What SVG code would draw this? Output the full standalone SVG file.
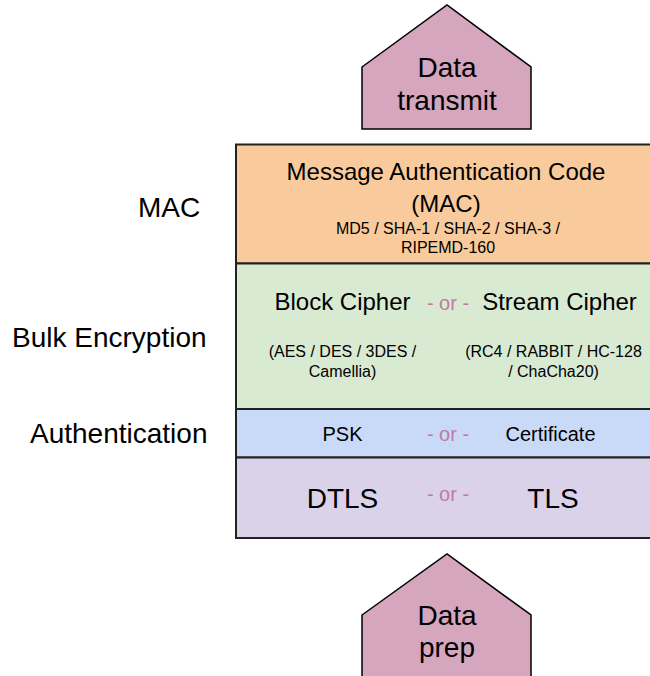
<svg xmlns="http://www.w3.org/2000/svg" width="650" height="676" viewBox="0 0 650 676">
  <style>
    text { font-family: "Liberation Sans", Arial, sans-serif; fill: #000; }
    .c { text-anchor: middle; }
    .big { font-size: 28px; }
    .mid { font-size: 24px; }
    .med { font-size: 20px; }
    .small { font-size: 16px; }
    .or { fill: #c27ba0; font-size: 20px; text-anchor: middle; }
    .arrow { fill: #d5a6bd; stroke: #000; stroke-width: 1.5; stroke-linejoin: miter; }
    .layer { stroke: #222; stroke-width: 2; }
  </style>

  <!-- side labels -->
  <g id="labels">
    <text class="big" x="138" y="217">MAC</text>
    <text class="big" x="12" y="347">Bulk Encryption</text>
    <text class="big" x="30" y="443">Authentication</text>
  </g>

  <!-- outgoing data arrow -->
  <g id="data-transmit">
    <polygon class="arrow" points="362,67 447,5 531,67 531,129 362,129"/>
    <text class="big c" x="447" y="77">Data</text>
    <text class="big c" x="447" y="110">transmit</text>
  </g>

  <!-- MAC layer -->
  <g id="mac">
    <rect class="layer" x="236" y="144.5" width="430" height="119" fill="#f9cb9c"/>
    <text class="mid c" x="446" y="180">Message Authentication Code</text>
    <text class="mid c" x="446" y="212">(MAC)</text>
    <text class="small c" x="448" y="234">MD5 / SHA-1 / SHA-2 / SHA-3 /</text>
    <text class="small c" x="448" y="253">RIPEMD-160</text>
  </g>

  <!-- bulk encryption layer -->
  <g id="bulk-encryption">
    <rect class="layer" x="236" y="263.5" width="430" height="145.5" fill="#d9ead3"/>
    <text class="mid c" x="342.5" y="310">Block Cipher</text>
    <text class="or" x="448" y="310">- or -</text>
    <text class="mid c" x="559.5" y="310">Stream Cipher</text>
    <text class="small c" x="342.5" y="357">(AES / DES / 3DES /</text>
    <text class="small c" x="342.5" y="377">Camellia)</text>
    <text class="small c" x="553.5" y="357">(RC4 / RABBIT / HC-128</text>
    <text class="small c" x="553.5" y="377">/ ChaCha20)</text>
  </g>

  <!-- authentication layer -->
  <g id="authentication">
    <rect class="layer" x="236" y="409" width="430" height="48.5" fill="#c9daf8"/>
    <text class="med c" x="342.5" y="441">PSK</text>
    <text class="or" x="448" y="441">- or -</text>
    <text class="med c" x="550.5" y="441">Certificate</text>
  </g>

  <!-- transport layer -->
  <g id="transport">
    <rect class="layer" x="236" y="457.5" width="430" height="80.5" fill="#d9d2e9"/>
    <text class="big c" x="342.5" y="508">DTLS</text>
    <text class="or" x="448" y="501">- or -</text>
    <text class="big c" x="553" y="508">TLS</text>
  </g>

  <!-- incoming data arrow -->
  <g id="data-prep">
    <polygon class="arrow" points="362,615 447,554 531,615 531,690 362,690"/>
    <text class="big c" x="447" y="625">Data</text>
    <text class="big c" x="447" y="657">prep</text>
  </g>

  <g id="connectors"></g>
</svg>
